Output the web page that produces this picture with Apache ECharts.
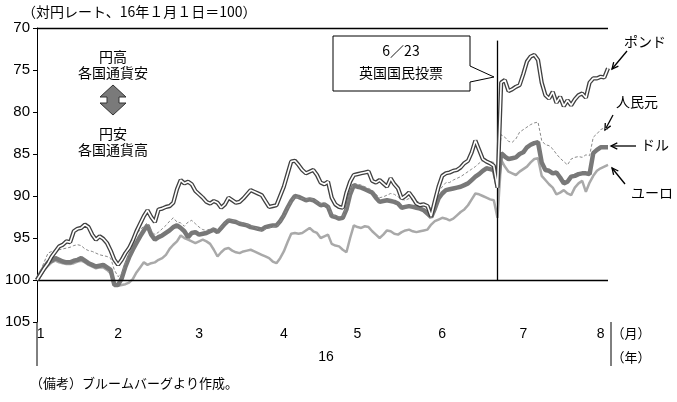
<!DOCTYPE html>
<html>
<head>
<meta charset="utf-8">
<script src="https://cdn.jsdelivr.net/npm/echarts@6/dist/echarts.min.js"></script>
<style>
  html, body { margin: 0; padding: 0; background: #fff; }
  #main { width: 677px; height: 402px; }
</style>
</head>
<body>
<div id="main"></div>
<script>
// 営業日ベース（16年1月1日～8月上旬）、対円レート指数
var monthIdx = [1, 22, 44, 67, 87, 110, 132, 153];
var monthNames = ['1', '2', '3', '4', '5', '6', '7', '8'];
var yTicks = [70, 75, 80, 85, 90, 95, 100, 105];
var brexitIdx = 125;

var pound = [
  100, 99.3, 98.6, 98, 97.2, 96.6, 96, 95.8, 95.4, 95.5,
  94.2, 93.9, 93.8, 93.4, 93.7, 94.6, 95.2, 94.8, 95.1, 95.6,
  96.5, 97.6, 98.2, 97.6, 96.8, 96.2, 95.3, 94.2, 93.3, 92.4,
  91.7, 92.5, 93.1, 91.6, 91.5, 91.3, 91.2, 90.8, 89.2, 88.1,
  88.5, 88.3, 88.6, 89.4, 89.8, 90.2, 90.7, 90.9, 90.6, 90.8,
  91.4, 91, 90.2, 90.5, 90.8, 90.7, 90.3, 89.8, 89.3, 89.5,
  89.7, 89.9, 90.6, 91.3, 91.2, 91.1, 90, 88.9, 87.4, 85.9,
  85.8, 86.3, 86.9, 87.3, 87.1, 86.9, 87.5, 88.4, 88.6, 88.3,
  90.2, 91, 91.3, 91.4, 89.6, 88.3, 87.5, 87.4, 87.3, 87.2,
  87.1, 88.2, 88.4, 88.1, 88.5, 88.9, 87.9, 88.6, 89.1, 90.3,
  90, 89.6, 90.2, 90.9, 91.1, 91, 91.2, 92.4, 90.6, 88.9,
  87.6, 87.3, 87.2, 87, 86.9, 86.6, 86.1, 85.8, 84.8, 83.4,
  84.5, 85.6, 85.9, 86.1, 86.4, 89, 76.5, 76.2, 77.5, 77.3,
  77, 76.8, 75.5, 74, 73.4, 73.2, 73.8, 76.5, 78, 78.4,
  77.6, 78.9, 78.2, 79.3, 78.6, 79.2, 78.5, 78, 77.8, 78.3,
  76.5, 76, 76, 75.8, 75.9, 74.8
];

var yuan = [
  100, 98.9, 97.8, 96.8, 96.6, 96.5, 96.4, 96.3, 96.2, 96.1,
  95.9, 95.8, 95.9, 96.3, 96.5, 96.6, 96.8, 97, 97.1, 97.2,
  97.4, 98.8, 99.6, 99.2, 98, 96.9, 95.8, 94.6, 94, 93.6,
  93.2, 94.1, 94.6, 94.3, 93.9, 93.5, 93, 92.6, 93.1, 93.2,
  93.6, 93.1, 92.9, 93.3, 93.7, 94, 94.1, 93.9, 93.8, 94,
  93.7, 93.2, 92.8, 92.9, 93, 93.2, 93.2, 93.4, 93.5, 93.7,
  93.9, 94.2, 93.9, 93.8, 93.6, 93.7, 93.1, 92.4, 91.5, 90.7,
  90.1, 90.2, 90.3, 90.4, 90.3, 90.4, 90.7, 90.9, 90.9, 91.2,
  92.2, 92.4, 92.5, 92.4, 91.3, 89.5, 88.5, 88.6, 88.7, 88.9,
  89.1, 89.3, 89.8, 90.2, 90.1, 89.9, 89.7, 89.8, 90.1, 90.4,
  90.5, 90.3, 90.5, 90.6, 90.8, 90.9, 91.1, 91.5, 90.5, 89.5,
  88.9, 88.4, 88.4, 88.1, 87.9, 87.7, 87.4, 87.1, 86.8, 86.5,
  86.1, 85.8, 85.7, 85.9, 86, 87.5, 82.7, 83, 83.5, 83.6,
  83.2, 82.4, 82.1, 81.8, 81.5, 81.3, 81.2, 83.4, 83.9, 84,
  84.4, 85, 85.5, 85.9, 86.3, 85.6, 85.4, 85.3, 85.4, 85.1,
  85.2, 83, 82.6, 82.1, 81.9, 82.1
];

var dollar = [
  100, 99.2, 98.5, 97.9, 97.7, 97.4, 97.6, 97.8, 97.9, 97.9,
  97.7, 97.6, 97.4, 97.7, 98, 98.2, 98.4, 98.3, 98.2, 98.5,
  98.8, 100.6, 100.6, 99.8, 98.4, 97.3, 96.4, 95.6, 94.8, 94.1,
  93.5, 94.6, 95.2, 94.9, 94.7, 94.4, 94.1, 93.7, 93.5, 93.8,
  94.2, 94.9, 94.4, 94.3, 94.6, 94.5, 94.4, 94.2, 94, 94.3,
  93.8, 93.3, 92.9, 93, 93.1, 93.3, 93.4, 93.5, 93.7, 93.8,
  93.9, 94, 93.7, 93.6, 93.5, 93.5, 93, 92.3, 91.4, 90.6,
  90, 90.1, 90.3, 90.5, 90.4, 90.5, 90.8, 91.1, 91, 91.3,
  92.4, 92.5, 92.7, 92.6, 91.6, 89.8, 88.7, 88.9, 89, 89.2,
  89.4, 89.6, 90.2, 90.7, 90.6, 90.5, 90.6, 90.7, 90.9, 91.4,
  91.3, 91.2, 91.3, 91.4, 91.5, 91.7, 92.1, 92.5, 91.5, 90.3,
  89.7, 89.3, 89.2, 89.1, 89, 88.9, 88.7, 88.5, 88.1, 87.7,
  87.4, 87, 86.7, 86.8, 86.9, 88.7, 84.9, 85.3, 85.6, 85.5,
  85.4, 85, 84.8, 84.2, 83.9, 83.7, 83.6, 86, 86.9, 87,
  87.3, 87.2, 87.8, 88.5, 88.3, 87.7, 87.6, 87.4, 87.3, 87.3,
  87.4, 84.9, 84.5, 84.2, 84.2, 84.2
];

var euro = [
  100, 99.4, 98.8, 98.3, 97.9, 97.7, 97.9, 98, 98.1, 98.1,
  98, 97.8, 97.7, 97.9, 98.2, 98.4, 98.6, 98.5, 98.5, 98.8,
  99.2, 100.6, 100.7, 100.6, 100.5, 100.3, 99.9, 99.1, 98.5, 97.9,
  98.2, 98, 97.9, 97.6, 97.4, 97, 96.3, 95.8, 95.4, 94.7,
  95, 95.2, 95.4, 95.6, 95.4, 95.2, 95.4, 95.7, 96.4, 97.2,
  96.7, 96.3, 96.2, 96.5, 96.7, 96.8, 96.6, 96.5, 96.4, 96.6,
  96.8, 97, 97.2, 97.4, 97.8, 98, 97.4, 96.6, 95.5, 94.5,
  94.4, 94.5, 94.4, 94.1, 93.8, 94.2, 94.4, 95, 94.8, 94.6,
  95.7, 95.9, 96, 96.4, 96.7, 95, 93.5, 93.7, 93.8, 93.6,
  93.7, 94.2, 94.6, 95, 94.6, 94.1, 94.2, 94.5, 94.6, 94.3,
  94.1, 94, 94.2, 94.3, 94.2, 94.1, 94, 93.4, 93, 92.8,
  92.6, 92.7, 92.9, 92.7, 92.3, 91.9, 91.6, 91.1, 90.4, 89.7,
  89.8, 90, 90.2, 90.4, 90.5, 92.6, 85.7, 86.5, 87.1, 87.3,
  87.5, 87.1, 86.8, 86.5, 86, 85.6, 85.5, 87.6, 88.1, 88.6,
  89, 89.8, 89.6, 89.3, 89.7, 89.9, 89, 88.5, 88.2, 89.5,
  88.4, 87.6, 87, 86.7, 86.5, 86.3
];

var days = pound.map(function (v, i) { return String(i); });

var jp = '"Noto Sans CJK JP", sans-serif';
var num = '"Liberation Sans Narrow", "Liberation Sans", sans-serif';

function arrow(x1, y1, x2, y2) {
  // x2,y2 が矢印の先
  var a = Math.atan2(y2 - y1, x2 - x1);
  var L = 7, w = 0.45;
  return [
    { type: 'line', shape: { x1: x1, y1: y1, x2: x2, y2: y2 }, style: { stroke: '#000', lineWidth: 1.3 } },
    { type: 'polyline', shape: { points: [
        [x2 - L * Math.cos(a - w), y2 - L * Math.sin(a - w)],
        [x2, y2],
        [x2 - L * Math.cos(a + w), y2 - L * Math.sin(a + w)]
      ] }, style: { stroke: '#000', lineWidth: 1.3, fill: null } }
  ];
}

function txt(x, y, s, size, font, align) {
  return { type: 'text', x: x, y: y, style: {
    text: s, fill: '#000', font: size + 'px ' + (font || jp),
    textAlign: align || 'center', textVerticalAlign: 'middle' } };
}

var graphics = [
  txt(22, 12, '（対円レート、16年１月１日＝100）', 14, jp, 'left'),
  // 吹き出し
  { type: 'polygon', shape: { points: [[333, 36], [470, 36], [470, 66], [494, 77], [470, 82], [470, 91], [333, 91]] },
    style: { fill: '#fff', stroke: '#000', lineWidth: 1 } },
  txt(401, 51, '6／23', 14),
  txt(401, 73, '英国国民投票', 14),
  // 円高・円安
  txt(113, 57, '円高', 14),
  txt(113, 73, '各国通貨安', 14),
  { type: 'polygon', shape: { points: [[113, 85], [126, 97], [119, 97], [119, 103], [126, 103], [113, 115], [100, 103], [107, 103], [107, 97], [100, 97]] },
    style: { fill: '#7a7a7a', stroke: '#333', lineWidth: 1 } },
  txt(113, 134, '円安', 14),
  txt(113, 150, '各国通貨高', 14),
  // 凡例ラベル
  txt(645, 42, 'ポンド', 14),
  txt(637, 102, '人民元', 14),
  txt(655, 145, 'ドル', 14),
  txt(652, 193, 'ユーロ', 14),
  // 軸まわり
  { type: 'line', shape: { x1: 37, y1: 322, x2: 37, y2: 366 }, style: { stroke: '#000', lineWidth: 1 } },
  { type: 'line', shape: { x1: 611, y1: 322, x2: 611, y2: 366 }, style: { stroke: '#000', lineWidth: 1 } },
  txt(631, 333, '（月）', 13),
  txt(631, 357, '（年）', 13),
  txt(326, 357, '16', 14, num),
  txt(30, 383, '（備考）ブルームバーグより作成。', 13, jp, 'left')
];
graphics = graphics.concat(
  arrow(627, 51, 612, 69),
  arrow(613, 115, 605, 130),
  arrow(636, 146, 611, 146),
  arrow(625, 184, 612, 168)
);

var chart = echarts.init(document.getElementById('main'), null, { renderer: 'canvas' });
chart.setOption({
  animation: false,
  backgroundColor: '#fff',
  grid: { left: 37, right: 69, top: 28, bottom: 80 },
  xAxis: {
    type: 'category',
    data: days,
    boundaryGap: false,
    axisLine: { show: false },
    axisTick: { show: false },
    splitLine: { show: false },
    axisLabel: {
      interval: function (i) { return monthIdx.indexOf(i) >= 0; },
      formatter: function (v, i) { var k = monthIdx.indexOf(i); return k >= 0 ? monthNames[k] : ''; },
      color: '#000', fontSize: 14, fontFamily: num, margin: 5
    }
  },
  yAxis: {
    type: 'value',
    inverse: true,
    min: yTicks[0],
    max: yTicks[yTicks.length - 1],
    interval: 5,
    axisLine: { show: true, lineStyle: { color: '#000', width: 1 } },
    axisTick: { show: true, inside: false, length: 4, lineStyle: { color: '#000' } },
    splitLine: { show: false },
    axisLabel: { color: '#000', fontSize: 15, fontFamily: num, margin: 7 }
  },
  graphic: graphics,
  series: [
    { name: 'ユーロ', type: 'line', data: euro, showSymbol: false, z: 2,
      lineStyle: { color: '#a9a9a9', width: 2.5 } },
    { name: 'ドル', type: 'line', data: dollar, showSymbol: false, z: 3,
      lineStyle: { color: '#787878', width: 4.5 },
      markLine: {
        silent: true, symbol: 'none', label: { show: false },
        lineStyle: { color: '#000', width: 1.3, type: 'solid' },
        data: [
          { yAxis: 70 },
          { yAxis: 100 },
          [{ coord: [brexitIdx, 71.5] }, { coord: [brexitIdx, 100] }]
        ]
      } },
    { name: '人民元', type: 'line', data: yuan, showSymbol: false, z: 4,
      lineStyle: { color: '#8a8a8a', width: 1, type: [3, 2] } },
    { name: 'ポンド', type: 'line', data: pound, showSymbol: false, z: 5,
      lineStyle: { color: '#404040', width: 4.2 } },
    { name: 'ポンド2', type: 'line', data: pound, showSymbol: false, z: 6,
      lineStyle: { color: '#ffffff', width: 1.6 } }
  ]
});
</script>
</body>
</html>
